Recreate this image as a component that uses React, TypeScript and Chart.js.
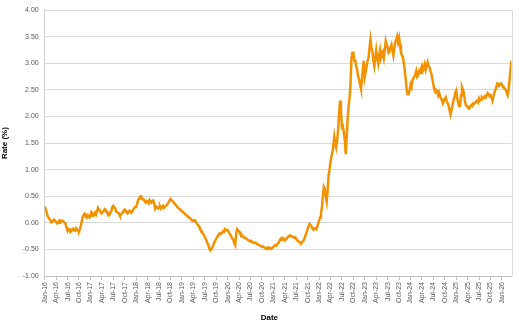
import { useEffect, useRef } from 'react';
import { Chart, registerables } from 'chart.js';

Chart.register(...registerables);

// Tick labels (every 3 months starting Jan-16)
const tickLabels = [
  'Jan-16', 'Apr-16', 'Jul-16', 'Oct-16',
  'Jan-17', 'Apr-17', 'Jul-17', 'Oct-17',
  'Jan-18', 'Apr-18', 'Jul-18', 'Oct-18',
  'Jan-19', 'Apr-19', 'Jul-19', 'Oct-19',
  'Jan-20', 'Apr-20', 'Jul-20', 'Oct-20',
  'Jan-21', 'Apr-21', 'Jul-21', 'Oct-21',
  'Jan-22', 'Apr-22', 'Jul-22', 'Oct-22',
  'Jan-23', 'Apr-23', 'Jul-23', 'Oct-23',
  'Jan-24', 'Apr-24', 'Jul-24', 'Oct-24',
  'Jan-25', 'Apr-25', 'Jul-25', 'Oct-25',
  'Jan-26',
];

const y2016 = [0.31, 0.26, 0.2, 0.13, 0.1, 0.07, 0.05, 0.01, 0.02, 0.05, 0.06, 0.03, 0.02, -0.01, 0.0, 0.04, 0.05, 0.01, 0.03, 0.04, 0.02, 0.0, -0.02, -0.1, -0.15, -0.11, -0.12, -0.17, -0.16, -0.12, -0.11, -0.14, -0.15, -0.1, -0.12, -0.15, -0.16, -0.12, -0.05, 0.04, 0.12, 0.15, 0.17, 0.12, 0.1, 0.15, 0.14, 0.1];
const y2017 = [0.12, 0.2, 0.18, 0.13, 0.14, 0.19, 0.16, 0.22, 0.28, 0.25, 0.24, 0.18, 0.18, 0.21, 0.22, 0.26, 0.25, 0.2, 0.2, 0.14, 0.15, 0.2, 0.22, 0.3, 0.32, 0.29, 0.27, 0.21, 0.2, 0.19, 0.18, 0.14, 0.15, 0.18, 0.2, 0.24, 0.25, 0.21, 0.22, 0.18, 0.2, 0.23, 0.22, 0.19, 0.21, 0.25, 0.28, 0.3];
const y2018 = [0.3, 0.36, 0.42, 0.46, 0.49, 0.5, 0.47, 0.44, 0.44, 0.4, 0.38, 0.41, 0.4, 0.37, 0.43, 0.4, 0.38, 0.41, 0.42, 0.36, 0.27, 0.31, 0.3, 0.27, 0.29, 0.31, 0.27, 0.3, 0.32, 0.28, 0.3, 0.32, 0.33, 0.36, 0.38, 0.42, 0.45, 0.43, 0.41, 0.4, 0.37, 0.35, 0.33, 0.3, 0.28, 0.27, 0.25, 0.24];
const y2019 = [0.22, 0.2, 0.19, 0.17, 0.16, 0.14, 0.13, 0.1, 0.1, 0.08, 0.06, 0.04, 0.03, 0.05, 0.04, 0.01, -0.02, -0.04, -0.07, -0.11, -0.14, -0.16, -0.2, -0.22, -0.27, -0.3, -0.34, -0.39, -0.43, -0.49, -0.52, -0.5, -0.46, -0.42, -0.37, -0.33, -0.3, -0.27, -0.24, -0.21, -0.2, -0.21, -0.19, -0.16, -0.17, -0.12, -0.14, -0.13];
const y2020 = [-0.14, -0.16, -0.2, -0.23, -0.26, -0.3, -0.32, -0.38, -0.42, -0.2, -0.12, -0.14, -0.16, -0.2, -0.2, -0.24, -0.26, -0.27, -0.29, -0.28, -0.3, -0.32, -0.33, -0.34, -0.35, -0.34, -0.36, -0.38, -0.38, -0.37, -0.38, -0.4, -0.41, -0.42, -0.43, -0.44, -0.45, -0.44, -0.46, -0.47, -0.47, -0.49, -0.49, -0.46, -0.47, -0.49, -0.48, -0.47];
const y2021 = [-0.45, -0.44, -0.42, -0.43, -0.41, -0.38, -0.36, -0.32, -0.3, -0.28, -0.31, -0.3, -0.33, -0.31, -0.3, -0.27, -0.26, -0.24, -0.24, -0.25, -0.26, -0.27, -0.28, -0.27, -0.3, -0.33, -0.34, -0.36, -0.37, -0.38, -0.36, -0.35, -0.32, -0.28, -0.22, -0.18, -0.12, -0.06, -0.02, -0.04, -0.06, -0.11, -0.13, -0.1, -0.1, -0.12, -0.08, -0.02];
const y2022 = [0.04, 0.1, 0.18, 0.3, 0.5, 0.68, 0.64, 0.5, 0.4, 0.6, 0.9, 1.0, 1.15, 1.25, 1.33, 1.45, 1.62, 1.5, 1.42, 1.55, 1.75, 2.05, 2.3, 2.1, 1.8, 1.82, 1.7, 1.55, 1.29, 1.6, 1.95, 2.2, 2.35, 2.6, 3.1, 3.2, 3.2, 3.05, 3.05, 2.95, 2.88, 2.75, 2.7, 2.6, 2.52, 2.7, 2.9, 3.05];
const y2023 = [2.75, 2.85, 2.95, 3.05, 3.11, 3.3, 3.45, 3.3, 3.22, 3.05, 2.95, 3.1, 3.25, 3.1, 3.0, 3.15, 3.25, 3.1, 3.15, 3.2, 3.1, 3.25, 3.42, 3.35, 3.3, 3.2, 3.22, 3.3, 3.35, 3.25, 3.15, 3.28, 3.4, 3.45, 3.51, 3.4, 3.48, 3.35, 3.2, 3.15, 3.12, 3.0, 2.85, 2.7, 2.5, 2.42, 2.42, 2.5];
const y2024 = [2.6, 2.55, 2.68, 2.72, 2.74, 2.8, 2.86, 2.75, 2.78, 2.85, 2.82, 2.9, 2.95, 2.86, 2.9, 2.98, 2.88, 2.95, 3.02, 2.95, 2.92, 2.85, 2.8, 2.7, 2.6, 2.5, 2.46, 2.5, 2.48, 2.4, 2.45, 2.38, 2.34, 2.3, 2.25, 2.3, 2.33, 2.36, 2.28, 2.25, 2.2, 2.12, 2.04, 2.12, 2.2, 2.3, 2.35, 2.45];
const y2025 = [2.49, 2.35, 2.26, 2.2, 2.2, 2.4, 2.55, 2.5, 2.44, 2.3, 2.22, 2.2, 2.18, 2.15, 2.16, 2.2, 2.22, 2.2, 2.25, 2.24, 2.26, 2.29, 2.3, 2.27, 2.34, 2.3, 2.32, 2.36, 2.34, 2.35, 2.38, 2.36, 2.4, 2.44, 2.42, 2.38, 2.4, 2.36, 2.3, 2.38, 2.45, 2.5, 2.55, 2.62, 2.62, 2.58, 2.6, 2.62];
const y2026 = [2.59, 2.57, 2.55, 2.52, 2.5, 2.45, 2.4, 2.5, 2.7, 2.9, 3.05];

const series = [...y2016, ...y2017, ...y2018, ...y2019, ...y2020, ...y2021, ...y2022, ...y2023, ...y2024, ...y2025, ...y2026];
const MONTHS_PER_SAMPLE = 0.25;
const MONTHS_PER_TICK = 3;

const FONT = '"Liberation Sans", Arial, sans-serif';

export default function App() {
  const ref = useRef<HTMLCanvasElement>(null);

  useEffect(() => {
    document.body.style.margin = '0';
    const canvas = ref.current;
    if (!canvas) return;

    const points = series.map((v, i) => ({ x: i * MONTHS_PER_SAMPLE, y: v }));
    const lastX = (series.length - 1) * MONTHS_PER_SAMPLE;

    const plotBorder = {
      id: 'plotBorder',
      beforeDatasetsDraw(chart: any) {
        const { ctx, chartArea: a } = chart;
        ctx.save();
        ctx.strokeStyle = '#D9D9D9';
        ctx.lineWidth = 1;
        ctx.beginPath();
        ctx.moveTo(a.left, Math.round(a.top) + 0.5);
        ctx.lineTo(Math.round(a.right) + 0.5, Math.round(a.top) + 0.5);
        ctx.lineTo(Math.round(a.right) + 0.5, a.bottom);
        ctx.stroke();
        ctx.restore();
      },
    };

    const xTitle = {
      id: 'xTitle',
      afterDraw(chart: any) {
        const { ctx } = chart;
        ctx.save();
        ctx.font = `bold 8px ${FONT}`;
        ctx.fillStyle = '#000000';
        ctx.textAlign = 'center';
        ctx.textBaseline = 'middle';
        ctx.fillText('Date', chart.width * 0.519, chart.height - 7);
        ctx.restore();
      },
    };

    const chart = new Chart(canvas, {
      type: 'line',
      data: {
        datasets: [
          {
            label: 'Rate (%)',
            data: points,
            borderColor: '#F39200',
            backgroundColor: '#F39200',
            borderWidth: 2.5,
            pointRadius: 0,
            tension: 0,
          },
        ],
      },
      plugins: [plotBorder, xTitle],
      options: {
        animation: false,
        responsive: false,
        maintainAspectRatio: false,
        layout: { padding: { top: 5, right: 7.5, bottom: 0, left: 0 } },
        plugins: {
          legend: { display: false },
          tooltip: { enabled: false },
        },
        scales: {
          x: {
            type: 'linear',
            min: 0,
            max: lastX,
            afterBuildTicks: (scale: any) => {
              scale.ticks = tickLabels.map((_, i) => ({ value: i * MONTHS_PER_TICK }));
            },
            afterFit: (scale: any) => {
              scale.height = 49;
            },
            grid: {
              drawOnChartArea: false,
              drawTicks: true,
              tickLength: 4,
              color: '#BFBFBF',
            },
            border: { display: true, color: '#BFBFBF' },
            ticks: {
              autoSkip: false,
              maxRotation: 90,
              minRotation: 90,
              padding: 2,
              color: '#595959',
              font: { family: FONT, size: 7 },
              callback: (v: any) => tickLabels[Math.round(Number(v) / MONTHS_PER_TICK)] ?? '',
            },
          },
          y: {
            min: -1,
            max: 4,
            afterFit: (scale: any) => {
              scale.width = 44.7;
            },
            ticks: {
              stepSize: 0.5,
              padding: 6,
              color: '#595959',
              font: { family: FONT, size: 7 },
              callback: (v: any) => Number(v).toFixed(2),
            },
            grid: { color: '#D9D9D9', drawTicks: false },
            border: { display: true, color: '#D0D0D0' },
            title: {
              display: true,
              text: 'Rate (%)',
              color: '#000000',
              font: { family: FONT, size: 8, weight: 'bold' },
              padding: 0,
            },
          },
        },
      },
    });

    return () => chart.destroy();
  }, []);

  return <canvas ref={ref} width={519} height={325} style={{ display: 'block' }} />;
}
